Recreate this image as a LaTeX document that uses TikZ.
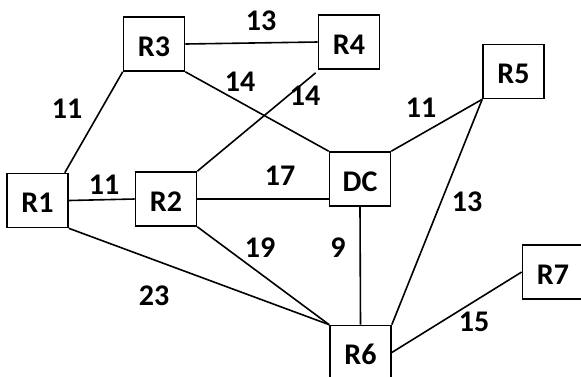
\documentclass[tikz,border=0pt]{standalone}
\usepackage{fontspec}
\setmainfont{Carlito}
\begin{document}
\begin{tikzpicture}[x=1pt,y=-1pt,
  router/.style={draw,line width=1.6pt,minimum width=61pt,minimum height=54pt,inner sep=0pt,text height=24pt,text depth=0pt,font=\fontsize{30}{30}\selectfont\bfseries},
  wlabel/.style={inner sep=0pt,font=\fontsize{30}{30}\selectfont\bfseries},
  link/.style={line width=1.6pt}]
\useasboundingbox (0,0) rectangle (581,376);
\node[router] (R1) at (37.5,200.5) {R1};
\node[router] (R2) at (166,199) {R2};
\node[router] (R3) at (154,44) {R3};
\node[router] (R4) at (349,42) {R4};
\node[router] (R5) at (513.5,71.5) {R5};
\node[router] (DC) at (360,179) {DC};
\node[router] (R6) at (360.5,352.5) {R6};
\node[router] (R7) at (553,272) {R7};
\draw[link] ([xshift=-4pt]R1.north east) -- (R3.south west);
\draw[link] (R1.east) -- (R2.west);
\draw[link] (R3.east) -- (R4.west);
\draw[link] (R3.south east) -- (DC.north west);
\draw[link] (R2.north east) -- ([xshift=-2pt,yshift=-3pt]R4.south west);
\draw[link] (R2.east) -- (R2.east -| DC.west);
\draw[link] (DC.north east) -- (R5.south west);
\draw[link] (R5.south west) -- (R6.north east);
\draw[link] (DC.south) -- (R6.north);
\draw[link] (R1.south east) -- (R6.north west);
\draw[link] (R2.south east) -- (R6.north west);
\draw[link] (R6.east) -- (R7.west);
\node[wlabel] (l34) at (261,21) {13};
\node[wlabel] (l3d) at (240,82) {14};
\node[wlabel] (l24) at (305,96) {14};
\node[wlabel] (l13) at (67,109) {11};
\node[wlabel] (l12) at (104,185) {11};
\node[wlabel] (l2d) at (280,176) {17};
\node[wlabel] (ld5) at (421,108) {11};
\node[wlabel] (l56) at (467,202) {13};
\node[wlabel] (l26) at (260,248) {19};
\node[wlabel] (ld6) at (338,248) {9};
\node[wlabel] (l16) at (154,296) {23};
\node[wlabel] (l67) at (474,322) {15};
\end{tikzpicture}
\end{document}
